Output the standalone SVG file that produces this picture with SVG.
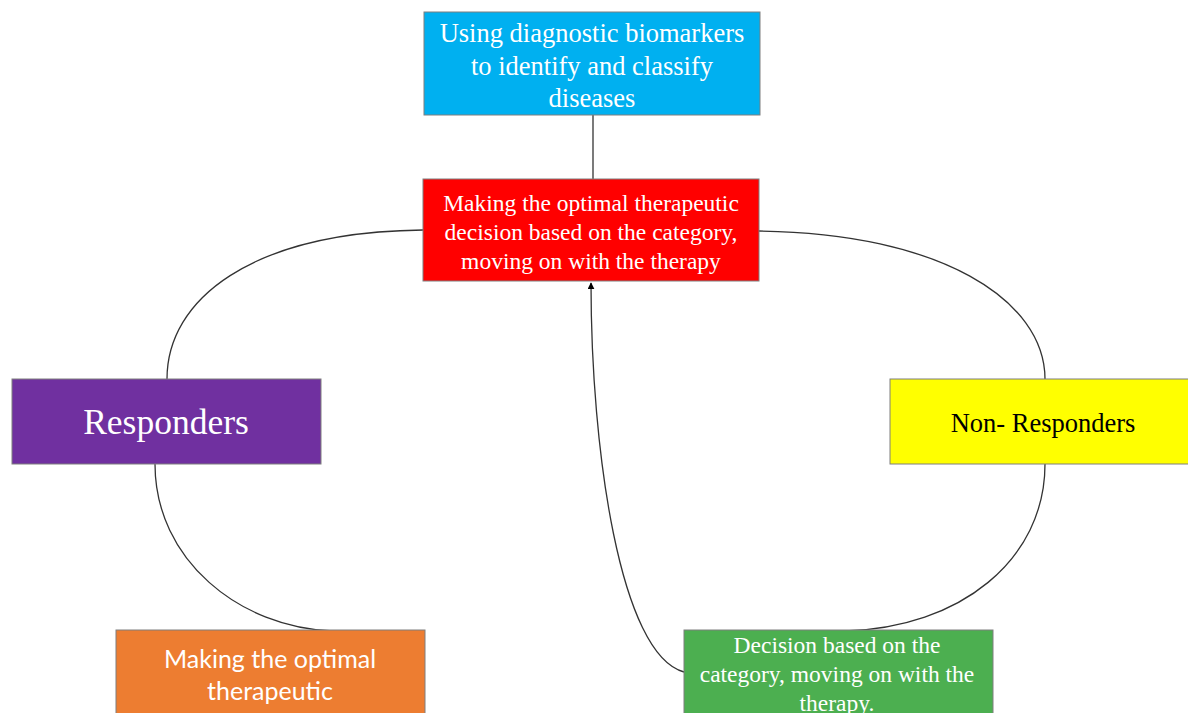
<svg xmlns="http://www.w3.org/2000/svg" width="1188" height="713" viewBox="0 0 1188 713">
<style>
.box{stroke:#7f7f7f;stroke-width:1}
.serif{font-family:"Liberation Serif","Times New Roman",serif;text-anchor:middle}
.sans{font-family:Lato,"Open Sans",sans-serif;text-anchor:middle}
.conn{fill:none;stroke:#333;stroke-width:1.3}
</style>
<defs>
<marker id="arr" viewBox="0 0 10 10" refX="9" refY="5" markerWidth="7" markerHeight="7" orient="auto" markerUnits="userSpaceOnUse">
<path d="M0,0 L10,5 L0,10 z" fill="#000"/>
</marker>
</defs>
<rect width="1188" height="713" fill="#fff"/>
<g id="connectors">
<path class="conn" d="M593,115 L593,179"/>
<path class="conn" d="M423,230 C250,232 167,300 167,379"/>
<path class="conn" d="M759,231 C940,233 1045,300 1045,379"/>
<path class="conn" d="M155,464 C155,560 240,628 333,631"/>
<path class="conn" d="M1045,464 C1045,560 960,628 845,631"/>
<path class="conn" d="M684,672 C620,655 591,450 591,283" marker-end="url(#arr)"/>
</g>
<g id="node-biomarkers">
<rect class="box" x="424" y="12" width="336" height="103" fill="#00B0F0"/>
<text class="serif" font-size="26.5" fill="#fff"><tspan x="592" y="42">Using diagnostic biomarkers</tspan><tspan x="592" y="75">to identify and classify</tspan><tspan x="592" y="107">diseases</tspan></text>
</g>
<g id="node-decision">
<rect class="box" x="423" y="179" width="336" height="102" fill="#FF0000"/>
<text class="serif" font-size="23.5" fill="#fff"><tspan x="591" y="211">Making the optimal therapeutic</tspan><tspan x="591" y="240">decision based on the category,</tspan><tspan x="591" y="269">moving on with the therapy</tspan></text>
</g>
<g id="node-responders">
<rect class="box" x="12" y="379" width="309" height="85" fill="#7030A0"/>
<text class="serif" font-size="35.5" fill="#fff" x="166" y="434">Responders</text>
</g>
<g id="node-nonresponders">
<rect class="box" x="890" y="379" width="300" height="85" fill="#FFFF00"/>
<text class="serif" font-size="26.5" fill="#000" x="1043" y="432">Non- Responders</text>
</g>
<g id="node-optimal">
<rect class="box" x="116" y="630" width="309" height="90" fill="#ED7D31"/>
<text class="sans" font-size="25" fill="#fff"><tspan x="270" y="668">Making the optimal</tspan><tspan x="270" y="700">therapeutic</tspan></text>
</g>
<g id="node-nonresp-decision">
<rect class="box" x="684" y="630" width="309" height="90" fill="#4CAF50"/>
<text class="serif" font-size="23.5" fill="#fff"><tspan x="837" y="653">Decision based on the</tspan><tspan x="837" y="682">category, moving on with the</tspan><tspan x="837" y="711">therapy.</tspan></text>
</g>
</svg>
